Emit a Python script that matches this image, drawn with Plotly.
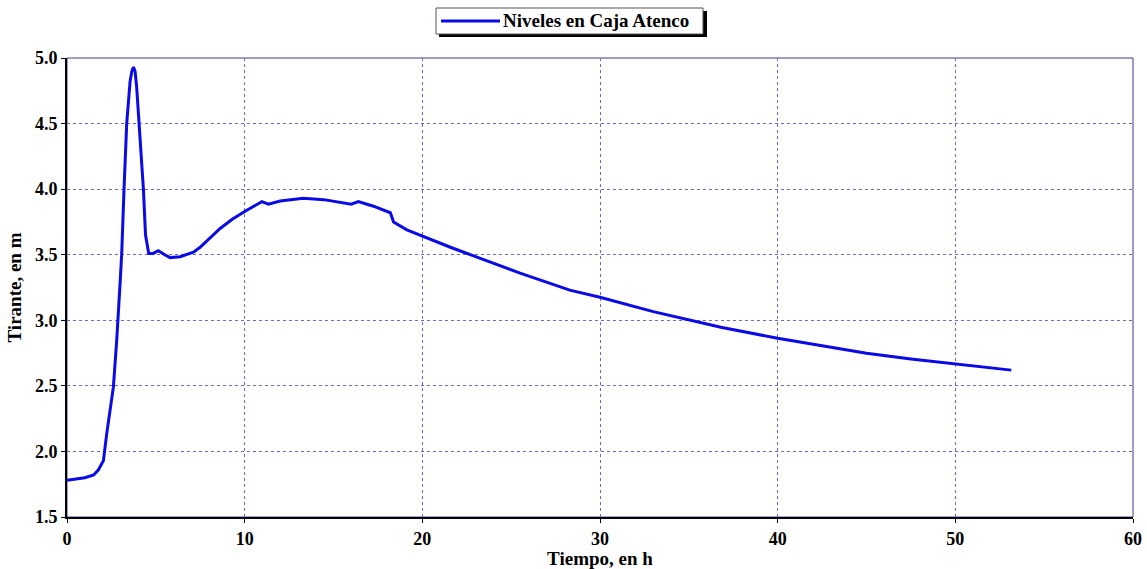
import plotly.graph_objects as go

tiempo = [0.0, 0.5, 1.0, 1.5, 1.77, 2.05, 2.24, 2.61, 2.8, 3.0, 3.08, 3.21, 3.36, 3.55, 3.65, 3.74,
          3.83, 3.92, 4.07, 4.3, 4.42, 4.6, 4.85, 5.14, 5.5, 5.8, 6.37, 7.12, 7.49, 8.0, 8.62, 9.3,
          10.0, 10.97, 11.34, 12.0, 13.3, 14.45, 16.0, 16.4, 17.25, 18.2, 18.38, 19.13, 20.03,
          21.58, 22.7, 25.5, 28.3, 30.0, 33.0, 35.66, 36.8, 40.0, 42.5, 45.0, 47.5, 50.0, 53.15]
tirante = [1.78, 1.79, 1.80, 1.82, 1.86, 1.93, 2.14, 2.49, 2.85, 3.31, 3.51, 4.0, 4.5, 4.82, 4.9, 4.93,
           4.9, 4.78, 4.5, 4.0, 3.65, 3.51, 3.51, 3.53, 3.50, 3.478, 3.485, 3.52, 3.557, 3.62, 3.70, 3.77,
           3.83, 3.905, 3.885, 3.91, 3.93, 3.92, 3.885, 3.905, 3.87, 3.82, 3.75, 3.69, 3.64,
           3.557, 3.50, 3.36, 3.23, 3.176, 3.066, 2.982, 2.947, 2.863, 2.803, 2.748, 2.705, 2.667, 2.62]

x_ticks = [0, 10, 20, 30, 40, 50, 60]
y_ticks = [1.5, 2.0, 2.5, 3.0, 3.5, 4.0, 4.5, 5.0]
legend_label = "Niveles en Caja Atenco"

font_family = "Liberation Serif, Times New Roman, serif"
line_color = "#0a0ae6"

# plot-area geometry (pixels) used to place the legend box in paper coords
L, R, T, B = 67, 1133, 58, 517
W, H = R - L, B - T
px = lambda x: (x - L) / W
py = lambda y: (B - y) / H

fig = go.Figure()
fig.add_trace(go.Scatter(
    x=tiempo, y=tirante, mode="lines", name=legend_label, showlegend=False,
    line=dict(color=line_color, width=3),
))

grid_color = "#6a6ac4"
fig.update_layout(
    width=1147, height=569,
    margin=dict(l=L, r=1147 - R, t=T, b=569 - B),
    paper_bgcolor="white", plot_bgcolor="white",
    font=dict(family=font_family, size=18, color="black"),
    showlegend=False,
    xaxis=dict(
        range=[0, 60], tickvals=x_ticks, ticktext=[f"<b>{v}</b>" for v in x_ticks],
        showgrid=True, gridcolor=grid_color, griddash="dot", gridwidth=1,
        showline=True, linecolor="black", linewidth=2, zeroline=False,
        ticks="outside", ticklen=4, tickcolor="black", automargin=False,
        title=dict(text="<b>Tiempo, en h</b>", standoff=0, font=dict(size=19)),
        tickfont=dict(size=18),
    ),
    yaxis=dict(
        range=[1.5, 5.0], tickvals=y_ticks, ticktext=[f"<b>{v:.1f}</b>" for v in y_ticks],
        showgrid=True, gridcolor=grid_color, griddash="dot", gridwidth=1,
        showline=True, linecolor="black", linewidth=2, zeroline=False,
        ticks="outside", ticklen=4, tickcolor="black", automargin=False,
        title=dict(text="<b>Tirante, en m</b>", standoff=8, font=dict(size=19)),
        tickfont=dict(size=18),
    ),
    shapes=[
        dict(type="rect", xref="paper", yref="paper", x0=0, x1=1, y0=0, y1=1,
             line=dict(color="#3a3a90", width=1), layer="below"),
        # legend shadow
        dict(type="rect", xref="paper", yref="paper",
             x0=px(439), x1=px(707), y0=py(37), y1=py(11),
             fillcolor="black", line=dict(width=0)),
        # legend box
        dict(type="rect", xref="paper", yref="paper",
             x0=px(436), x1=px(703), y0=py(34), y1=py(8),
             fillcolor="white", line=dict(color="#555555", width=1)),
        # legend line sample
        dict(type="line", xref="paper", yref="paper",
             x0=px(441), x1=px(500), y0=py(21), y1=py(21),
             line=dict(color=line_color, width=3)),
    ],
    annotations=[
        dict(text=f"<b>{legend_label}</b>", xref="paper", yref="paper",
             x=px(501), y=py(21), xanchor="left", yanchor="middle", showarrow=False,
             font=dict(family=font_family, size=19, color="black")),
    ],
)

fig.write_html("out.html", config={"displayModeBar": False},
               post_script="document.body.style.margin='0';")
